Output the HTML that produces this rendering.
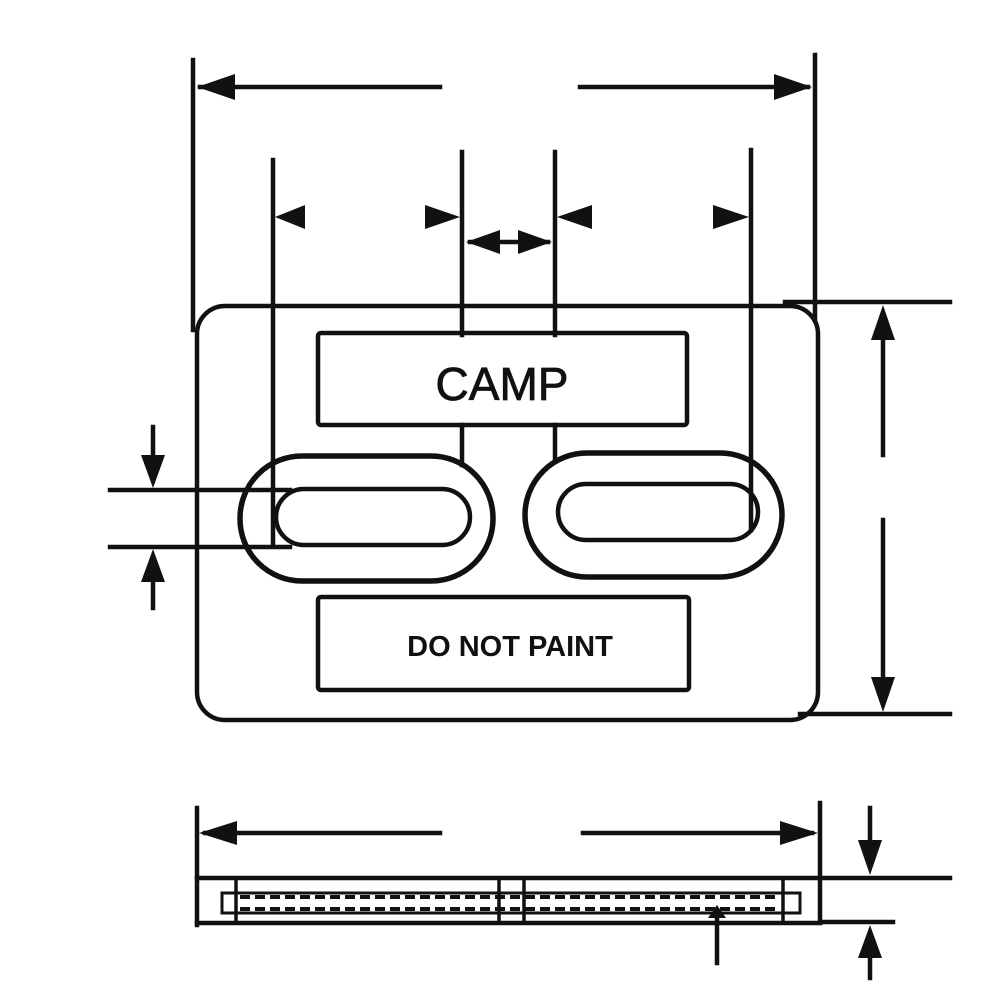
<!DOCTYPE html>
<html><head><style>body{margin:0;background:#fff}svg{display:block}</style></head><body>
<svg width="1000" height="1000" viewBox="0 0 1000 1000" xmlns="http://www.w3.org/2000/svg">
<g stroke="#111" fill="none" stroke-width="4.5" stroke-linecap="square">
<line x1="193" y1="60" x2="193" y2="330"/>
<line x1="815" y1="55" x2="815" y2="320"/>
<line x1="200" y1="87" x2="440" y2="87"/>
<line x1="580" y1="87" x2="808" y2="87"/>
<line x1="273" y1="160" x2="273" y2="545"/>
<line x1="462" y1="152" x2="462" y2="335"/>
<line x1="462" y1="425" x2="462" y2="465"/>
<line x1="555" y1="152" x2="555" y2="335"/>
<line x1="555" y1="425" x2="555" y2="460"/>
<line x1="751" y1="150" x2="751" y2="530"/>
<line x1="470" y1="242" x2="548" y2="242"/>
<rect x="197" y="306" width="621" height="414" rx="28"/>
<rect x="318" y="333" width="369" height="92" rx="3"/>
<rect x="318" y="597" width="371" height="93" rx="3"/>
<rect x="240" y="456" width="253" height="125" rx="62" stroke-width="5.5"/>
<rect x="276" y="489" width="194" height="56" rx="28"/>
<rect x="525" y="453" width="257" height="124" rx="62" stroke-width="5.5"/>
<rect x="558" y="484" width="200" height="56" rx="28"/>
<line x1="110" y1="490" x2="290" y2="490"/>
<line x1="110" y1="547" x2="290" y2="547"/>
<line x1="153" y1="427" x2="153" y2="470"/>
<line x1="153" y1="570" x2="153" y2="608"/>
<line x1="785" y1="302" x2="950" y2="302"/>
<line x1="800" y1="714" x2="950" y2="714"/>
<line x1="883" y1="330" x2="883" y2="455"/>
<line x1="883" y1="520" x2="883" y2="690"/>
<line x1="197" y1="808" x2="197" y2="925"/>
<line x1="820" y1="803" x2="820" y2="918"/>
<line x1="205" y1="833" x2="440" y2="833"/>
<line x1="583" y1="833" x2="812" y2="833"/>
<line x1="197" y1="878" x2="950" y2="878"/>
<line x1="197" y1="923" x2="820" y2="923"/>
<line x1="820" y1="922" x2="893" y2="922"/>
<line x1="236" y1="878" x2="236" y2="923" stroke-width="3.5"/>
<line x1="499" y1="878" x2="499" y2="923" stroke-width="3.5"/>
<line x1="524" y1="878" x2="524" y2="923" stroke-width="3.5"/>
<line x1="783" y1="878" x2="783" y2="923" stroke-width="3.5"/>
<rect x="222" y="893" width="578" height="20" stroke-width="3"/>
<line x1="240" y1="897" x2="780" y2="897" stroke-dasharray="10,5" stroke-width="4" stroke-linecap="butt"/>
<line x1="240" y1="909" x2="780" y2="909" stroke-dasharray="10,5" stroke-width="4" stroke-linecap="butt"/>
<line x1="870" y1="808" x2="870" y2="850"/>
<line x1="870" y1="950" x2="870" y2="978"/>
<line x1="717" y1="915" x2="717" y2="963"/>
</g>
<g fill="#111">
<polygon points="197,87 235,74 235,100"/>
<polygon points="812,87 774,74 774,100"/>
<polygon points="275,217 305,205 305,229"/>
<polygon points="460,217 425,205 425,229"/>
<polygon points="557,217 592,205 592,229"/>
<polygon points="749,217 713,205 713,229"/>
<polygon points="466,242 500,230 500,254"/>
<polygon points="552,242 518,230 518,254"/>
<polygon points="153,488 141,455 165,455"/>
<polygon points="153,549 141,582 165,582"/>
<polygon points="883,305 871,340 895,340"/>
<polygon points="883,712 871,677 895,677"/>
<polygon points="199,833 237,821 237,845"/>
<polygon points="818,833 780,821 780,845"/>
<polygon points="870,875 858,840 882,840"/>
<polygon points="870,925 858,958 882,958"/>
<polygon points="717,905 708,918 726,918"/>
</g>
<text x="502" y="400" font-family="Liberation Sans, sans-serif" font-size="46" text-anchor="middle" fill="#111" stroke="#111" stroke-width="0.8">CAMP</text>
<text x="510" y="656" font-family="Liberation Sans, sans-serif" font-size="29" font-weight="bold" text-anchor="middle" fill="#111">DO NOT PAINT</text>
</svg>
</body></html>
